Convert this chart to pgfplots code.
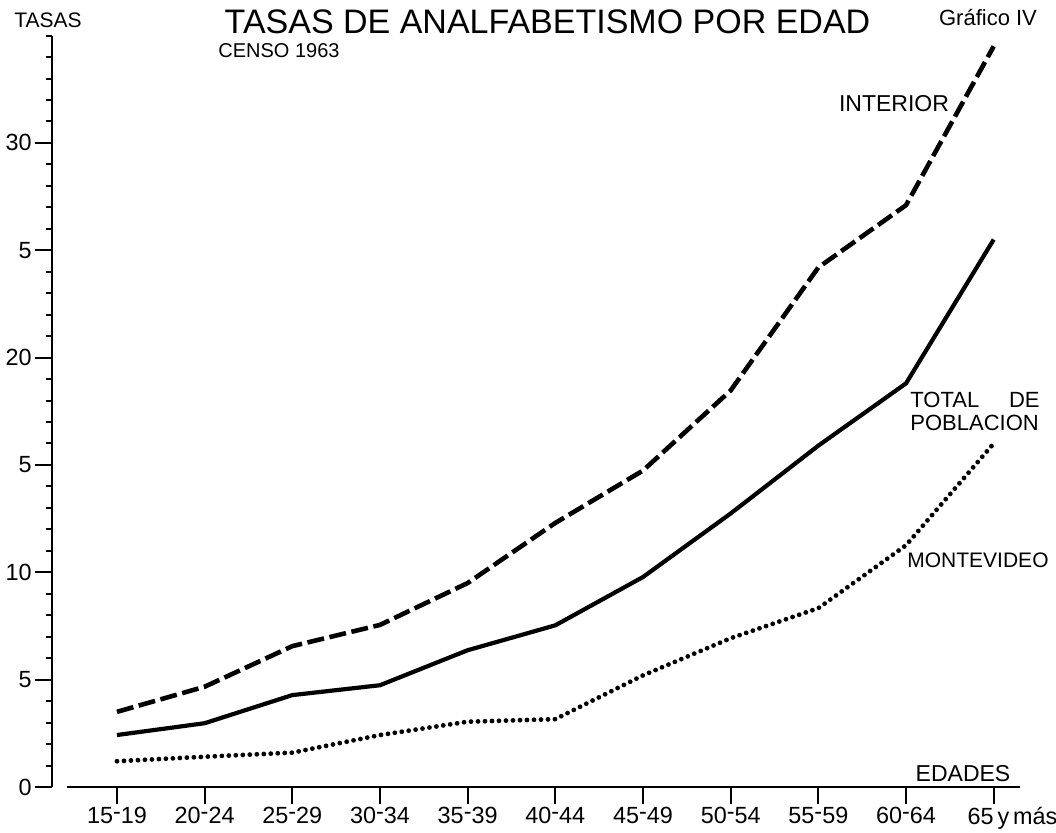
\documentclass[border=0pt]{standalone}
\usepackage{pgfplots}
\pgfplotsset{compat=1.18}
\usepackage{pgfplotstable}
\usepackage{fontspec}
\setmainfont{Liberation Sans}
\newcommand\rd{\raisebox{.35ex}{-}}

\pgfplotstableread{
k int tot mvd
0 3.5 2.42 1.2
1 4.67 2.97 1.41
2 6.56 4.28 1.6
3 7.55 4.74 2.42
4 9.5 6.37 3.04
5 12.3 7.53 3.16
6 14.74 9.78 5.2
7 18.47 12.74 6.93
8 24.2 15.9 8.33
9 27.1 18.8 11.26
10 34.5 25.5 16.0
}\datatable

\begin{document}
\begin{tikzpicture}
\path[use as bounding box] (-26pt,-23pt) rectangle (502pt,393.5pt);
\begin{axis}[
  at={(0,0)}, anchor=south west,
  scale only axis, width=484pt, height=375.7pt,
  xmin=-0.741, xmax=10.3, ymin=0, ymax=35,
  axis x line=bottom, axis y line=left, separate axis lines,
  x axis line style={-, draw=none},
  y axis line style={-, line width=1.1pt},
  xtick={0,...,10},
  xticklabels={{15\rd19},{20\rd24},{25\rd29},{30\rd34},{35\rd39},{40\rd44},{45\rd49},{50\rd54},{55\rd59},{60\rd64},{\llap{65}\rlap{\,y\,más}}},
  ytick={0,5,...,30}, yticklabels={0,5,10,5,20,5,30},
  minor ytick={1,...,35},
  tick align=outside,
  major tick length=8.5pt, minor tick length=3pt,
  tick style={line width=1pt, black},
  ticklabel style={font=\fontsize{11.7}{14}\selectfont},
  xticklabel style={inner ysep=1.5pt},
  yticklabel style={inner xsep=1.5pt},
  clip=false,
]
\draw[line width=1.2pt] (axis cs:-0.57,0) -- (axis cs:10.3,0);
\addplot[black, line width=2.3pt, dash pattern=on 8.5pt off 2.8pt] table[x=k, y=int] {\datatable};
\addplot[black, line width=2.1pt] table[x=k, y=tot] {\datatable};
\addplot[black, line width=2.4pt, line cap=round, dash pattern=on 0pt off 3.5pt] table[x=k, y=mvd] {\datatable};
\end{axis}
\node[font=\fontsize{17}{20}\selectfont, inner sep=0pt] at (247.75pt,382.5pt) {TASAS DE ANALFABETISMO POR EDAD};
\node[anchor=west, font=\fontsize{10}{12}\selectfont, inner sep=0pt] at (83pt,368pt) {CENSO 1963};
\node[font=\fontsize{11}{13}\selectfont] at (468pt,384.5pt) {Gráfico IV};
\node[font=\fontsize{10.5}{12}\selectfont] at (-2pt,383.5pt) {TASAS};
\node[font=\fontsize{11.5}{13}\selectfont] at (421pt,341.5pt) {INTERIOR};
\node[anchor=west, inner sep=0pt, font=\fontsize{11}{13}\selectfont] at (429pt,193.5pt) {TOTAL};
\node[anchor=east, inner sep=0pt, font=\fontsize{11}{13}\selectfont] at (494pt,193.5pt) {DE};
\node[anchor=west, inner sep=0pt, font=\fontsize{11}{13}\selectfont] at (429pt,182pt) {POBLACION};
\node[anchor=west, inner sep=0pt, font=\fontsize{10.5}{12}\selectfont] at (427.5pt,113.5pt) {MONTEVIDEO};
\node[font=\fontsize{11.5}{13}\selectfont] at (455.5pt,6.5pt) {EDADES};
\end{tikzpicture}
\end{document}
